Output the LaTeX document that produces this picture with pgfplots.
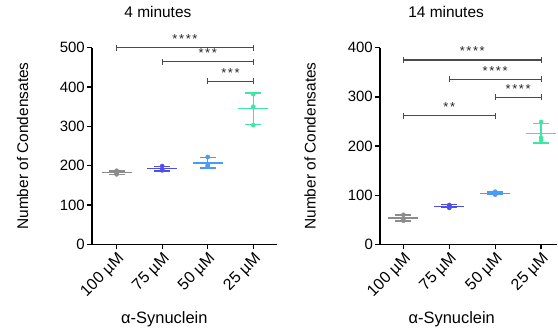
\documentclass[border=0pt]{standalone}
\usepackage{pgfplots}
\pgfplotsset{compat=1.18}
\usepackage{fontspec}
\setmainfont{Liberation Sans}
\definecolor{cgray}{HTML}{8C8C8C}
\definecolor{cblue}{HTML}{4F4FE6}
\definecolor{clblue}{HTML}{4A9CF2}
\definecolor{cgreen}{HTML}{3EE6A6}
\definecolor{csig}{HTML}{4A4A4A}
\newcommand{\sig}[5]{%
  \draw[csig, line width=1.1bp] ([yshift=-3bp]axis cs:#1,#3) -- ([yshift=3bp]axis cs:#1,#3);
  \draw[csig, line width=1.1bp] (axis cs:#1,#3) -- (axis cs:#2,#3);
  \draw[csig, line width=1.1bp] ([yshift=-3bp]axis cs:#2,#3) -- ([yshift=3bp]axis cs:#2,#3);
  \node[anchor=base, inner sep=0pt, font=\fontsize{13}{13}\selectfont, text=black!85] at ([yshift=4bp]axis cs:#4,#3) {#5};
}
\newcommand{\st}{*\kern1.6bp}
\newcommand{\grp}[5]{%
  \addplot[only marks, mark=*, mark size=2.1bp, color=#1, mark options={fill=#1, draw=#1}] coordinates {#5};
  \addplot[only marks, mark=-, mark size=15bp, color=#1, mark options={line width=1.3bp},
    error bars/.cd, y dir=both, y explicit, error mark=|, error mark options={mark size=8bp, line width=1.3bp, color=#1},
    error bar style={line width=1.3bp, color=#1}] coordinates {(#2,#3) +- (0,#4)};
}
\pgfplotsset{
  panel/.style={
    scale only axis,
    anchor=south west,
    height=196.6bp,
    axis x line=bottom, axis y line=left,
    axis line style={-, line width=1.4bp, black},
    tick style={line width=1.3bp, black},
    tick align=outside,
    major tick length=5bp,
    clip=false,
    ymin=0,
    xtick={0,1,2,3},
    xticklabels={100 µM,75 µM,50 µM,25 µM},
    xticklabel style={rotate=45, anchor=north east, inner sep=1.5pt, font=\fontsize{16}{16}\selectfont},
    yticklabel style={font=\fontsize{15}{15}\selectfont, inner sep=2pt},
    /pgf/number format/assume math mode=true,
    ylabel={Number of Condensates},
    ylabel style={anchor=center, font=\fontsize{15.5}{15.5}\selectfont},
    xlabel={α-Synuclein},
    xlabel style={anchor=base, font=\fontsize{16.5}{16.5}\selectfont},
    title style={anchor=base, font=\fontsize{15.5}{15.5}\selectfont},
  }
}
\begin{document}
\begin{tikzpicture}
\path[use as bounding box] (0,0) rectangle (558bp,331bp);
\begin{axis}[panel,
  at={(92bp,86.7bp)},
  width=185bp,
  xmin=-0.54, xmax=3.52,
  ymax=500, ytick={0,100,200,300,400,500},
  title={4 minutes},
  title style={at={(axis description cs:0.356,1)}, yshift=24.4bp},
  ylabel style={at={([xshift=-69.3bp]axis description cs:0,0.5)}},
  xlabel style={at={(axis description cs:0.391,0)}, yshift=-79bp},
]
\grp{cgray}{0}{182}{4.6}{(0,187)(0,181)(0,178)}
\grp{cblue}{1}{192}{5.8}{(1,199)(1,190)(1,188)}
\grp{clblue}{2}{207}{13}{(2,222)(2,201)(2,198)}
\grp{cgreen}{3}{345}{40}{(3,382)(3,350)(3,303)}
\sig{0}{3}{500}{1.5}{\st\st\st*}
\sig{1}{3}{464}{2}{\st\st*}
\sig{2}{3}{415}{2.5}{\st\st*}
\end{axis}
\begin{axis}[panel,
  at={(380bp,86.7bp)},
  width=176.7bp,
  xmin=-0.51, xmax=3.34,
  ymax=400, ytick={0,100,200,300,400},
  title={14 minutes},
  title style={at={(axis description cs:0.374,1)}, yshift=24.4bp},
  ylabel style={at={([xshift=-70bp]axis description cs:0,0.5)}},
  xlabel style={at={(axis description cs:0.406,0)}, yshift=-79bp},
]
\grp{cgray}{0}{53.3}{6.1}{(0,60)(0,52)(0,48)}
\grp{cblue}{1}{77.3}{3}{(1,80)(1,78)(1,74)}
\grp{clblue}{2}{103.7}{3}{(2,107)(2,103)(2,101)}
\grp{cgreen}{3}{226}{20}{(3,249)(3,217)(3,212)}
\sig{0}{3}{375}{1.5}{\st\st\st*}
\sig{1}{3}{336}{2}{\st\st\st*}
\sig{2}{3}{299}{2.5}{\st\st\st*}
\sig{0}{2}{262}{1}{\st*}
\end{axis}
\end{tikzpicture}
\end{document}
